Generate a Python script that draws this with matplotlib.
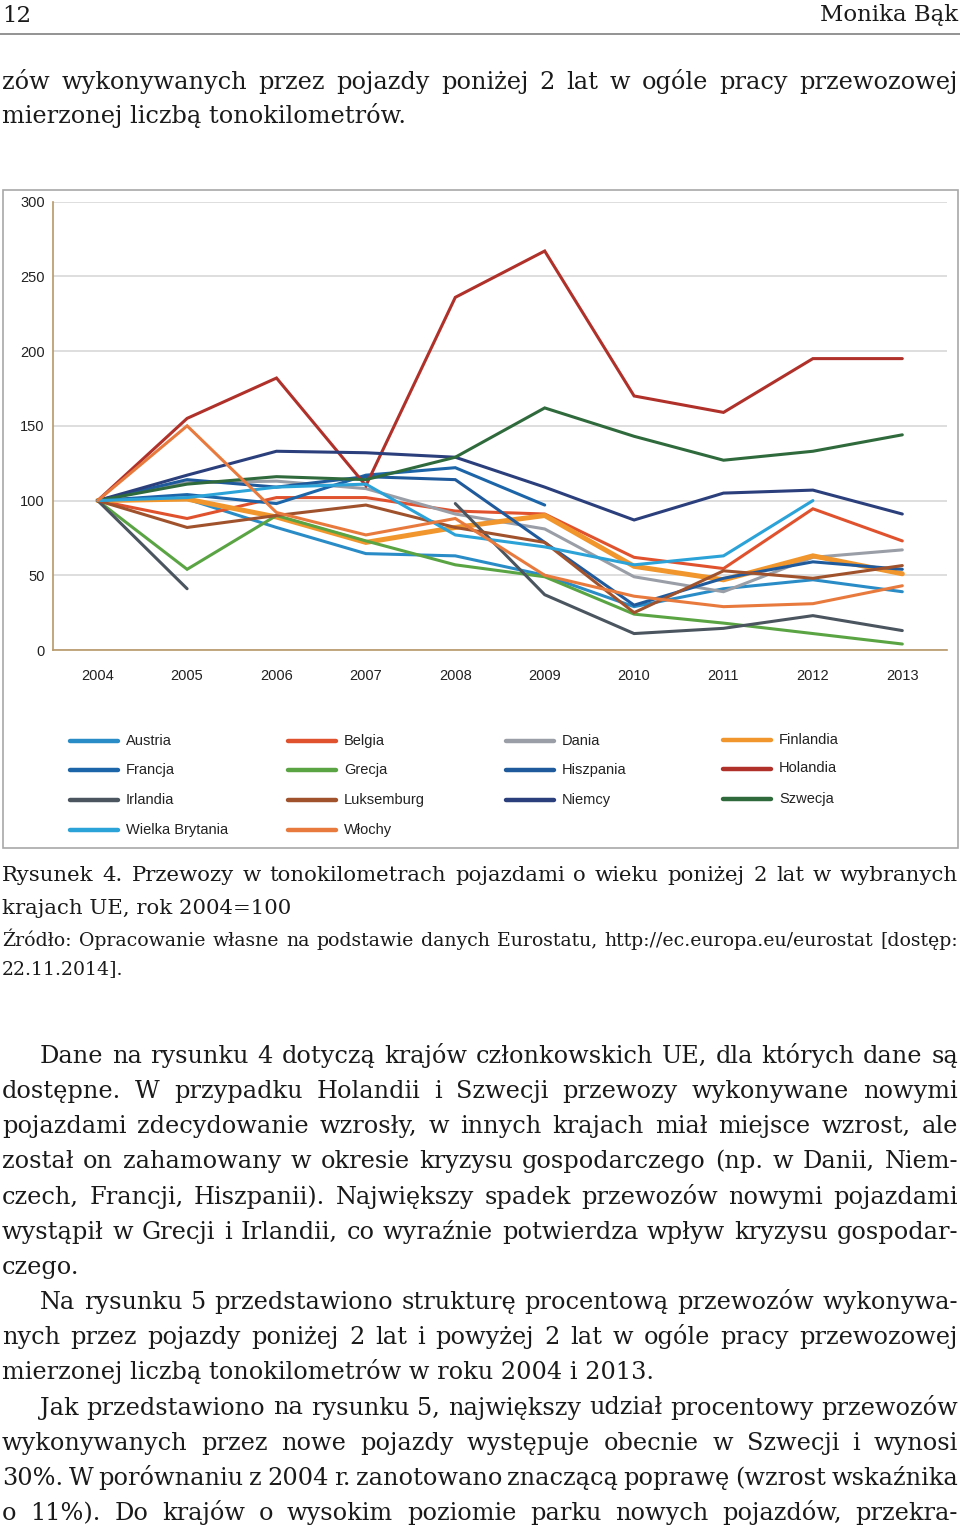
import matplotlib
matplotlib.use("Agg")
import matplotlib.pyplot as plt
from matplotlib.lines import Line2D
from matplotlib.patches import Rectangle
from matplotlib import font_manager
import numpy as np

nan = np.nan
lata = [2004, 2005, 2006, 2007, 2008, 2009, 2010, 2011, 2012, 2013]

austria = [100, 101, 82, 64.5, 63, 50, 29, 41, 47, 39]
belgia = [100, 88, 102, 102, 93, 91, 62, 54.5, 94.5, 73]
dania = [100, 112, 113, 108, 91, 81, 49, 39, 62, 67]
finlandia = [100, 101, 89, 72, 82, 90, 56, 47, 63, 51]
francja = [100, 104, 98, 117, 122, 97, nan, nan, nan, nan]
grecja = [100, 54, 90, 73, 57, 49, 24, 18, 11, 4]
hiszpania = [100, 114, 109, 116, 114, 72, 30, 48, 59, 54]
holandia = [100, 155, 182, 110, 236, 267, 170, 159, 195, 195]
irlandia = [100, 41, nan, nan, 98, 37, 11, 14.5, 23, 13]
luksemburg = [100, 82, 90, 97, 82, 72, 25, 53, 48, 56.5]
niemcy = [100, 117, 133, 132, 129, 109, 87, 105, 107, 91]
szwecja = [100, 111, 116, 114, 129, 162, 143, 127, 133, 144]
wielka_brytania = [100, 102, 109, 111, 77, 69, 57, 63, 100, nan]
wlochy = [100, 150, 92, 77, 88, 50, 36, 29, 31, 43]

kraje = ["Austria", "Belgia", "Dania", "Finlandia",
         "Francja", "Grecja", "Hiszpania", "Holandia",
         "Irlandia", "Luksemburg", "Niemcy", "Szwecja",
         "Wielka Brytania", "Włochy"]
serie = [austria, belgia, dania, finlandia,
         francja, grecja, hiszpania, holandia,
         irlandia, luksemburg, niemcy, szwecja,
         wielka_brytania, wlochy]
kolory = ["#2a8cc6", "#e0522e", "#9a9ea6", "#f0962c",
          "#1c65a8", "#5aa444", "#1f5a9c", "#b0302a",
          "#4a5560", "#a0522d", "#2b3f7c", "#2f6a3c",
          "#2ba2d8", "#e87a3e"]
grubosci = [2.2, 2.2, 2.2, 3.6, 2.2, 2.2, 2.2, 2.2, 2.2, 2.2, 2.2, 2.2, 2.2, 2.2]

W, H = 960, 1531
fig = plt.figure(figsize=(9.6, 15.31), dpi=100)
r = fig.canvas.get_renderer()

def fx(x):
    return x / W

def fy(y):
    return 1 - y / H

nazwy = {f.name for f in font_manager.fontManager.ttflist}
SANS = "Liberation Sans Narrow" if "Liberation Sans Narrow" in nazwy else "Liberation Sans"
SERIF = "DejaVu Serif"

def dopasuj(tekst, szer, family):
    t = fig.text(0, 0, tekst, fontsize=10, family=family)
    w = t.get_window_extent(r).width
    t.remove()
    return 10 * szer / w

def wiersz(tekst, y, size, x0=2, x1=958, justuj=True, family=SERIF):
    slowa = tekst.split()
    if not justuj or len(slowa) < 2:
        fig.text(fx(x0), fy(y), tekst, fontsize=size, family=family,
                 va="baseline", ha="left", color="#1a1a1a")
        return
    objs = [fig.text(0, fy(y), s, fontsize=size, family=family,
                     va="baseline", ha="left", color="#1a1a1a") for s in slowa]
    szer = [o.get_window_extent(r).width for o in objs]
    gap = (x1 - x0 - sum(szer)) / (len(slowa) - 1)
    x = x0
    for o, w in zip(objs, szer):
        o.set_x(fx(x))
        x += w + gap

podpis1 = "Rysunek 4. Przewozy w tonokilometrach pojazdami o wieku poniżej 2 lat w wybranych"
zrodlo1 = "Źródło: Opracowanie własne na podstawie danych Eurostatu, http://ec.europa.eu/eurostat [dostęp:"

fs_body = dopasuj("mierzonej liczbą tonokilometrów.", 405, SERIF)
fs_capt = dopasuj(podpis1, 935, SERIF)
fs_src = dopasuj(zrodlo1, 948, SERIF)
fs_sans = dopasuj("Wielka Brytania", 96, SANS)
if SANS != "Liberation Sans Narrow":
    fs_sans *= 1.06

# naglowek strony
wiersz("12", 21.5, fs_body * 0.95, justuj=False)
fig.text(fx(958), fy(21.5), "Monika Bąk", fontsize=fs_body * 0.95, family=SERIF,
         va="baseline", ha="right", color="#1a1a1a")
fig.add_artist(Line2D([0, 1], [fy(34), fy(34)], color="#8a8a8a", lw=1.3))

wiersz("zów wykonywanych przez pojazdy poniżej 2 lat w ogóle pracy przewozowej", 89, fs_body)
wiersz("mierzonej liczbą tonokilometrów.", 123, fs_body, justuj=False)

# ramka wykresu
fig.add_artist(Rectangle((fx(3), fy(848)), (955) / W, (848 - 190) / H,
                         fill=False, ec="#a8a8a8", lw=1.2))

ax = fig.add_axes([53 / W, fy(650), (947 - 53) / W, (650 - 201.7) / H])
for dane, kol, lw in zip(serie, kolory, grubosci):
    ax.plot(lata, dane, color=kol, lw=lw, solid_capstyle="round", solid_joinstyle="miter")
ax.set_xlim(2003.5, 2013.5)
ax.set_ylim(0, 300)
ax.set_yticks(range(0, 301, 50))
ax.set_xticks(lata)
ax.yaxis.grid(True, color="#d8d8d8", lw=1.2)
ax.set_axisbelow(True)
for s in ["top", "right"]:
    ax.spines[s].set_visible(False)
for s in ["left", "bottom"]:
    ax.spines[s].set_color("#b8986a")
    ax.spines[s].set_linewidth(1.2)
ax.tick_params(length=0, labelsize=fs_sans, colors="#222222")
ax.tick_params(axis="y", pad=6)
ax.tick_params(axis="x", pad=14)
for lab in ax.get_xticklabels() + ax.get_yticklabels():
    lab.set_family(SANS)

# legenda
kol_x = [70, 288, 506, 723]
wiersz_y = [741, 770, 800, 830]
for i, (nazwa, kol) in enumerate(zip(kraje, kolory)):
    c, w = i % 4, i // 4
    x0, y0 = kol_x[c], wiersz_y[w]
    if c == 3:
        y0 -= 1.5
    fig.add_artist(Line2D([fx(x0), fx(x0 + 48)], [fy(y0), fy(y0)], color=kol,
                          lw=3.2, solid_capstyle="round"))
    fig.text(fx(x0 + 56), fy(y0), nazwa, fontsize=fs_sans, family=SANS,
             va="center", ha="left", color="#222222")

# podpis
wiersz(podpis1, 881.5, fs_capt)
wiersz("krajach UE, rok 2004=100", 914, fs_capt, justuj=False)
wiersz(zrodlo1, 945.5, fs_src)
wiersz("22.11.2014].", 974, fs_src, justuj=False)

# tekst glowny
tekst = [
    ("Dane na rysunku 4 dotyczą krajów członkowskich UE, dla których dane są", 40, True),
    ("dostępne. W przypadku Holandii i Szwecji przewozy wykonywane nowymi", 2, True),
    ("pojazdami zdecydowanie wzrosły, w innych krajach miał miejsce wzrost, ale", 2, True),
    ("został on zahamowany w okresie kryzysu gospodarczego (np. w Danii, Niem-", 2, True),
    ("czech, Francji, Hiszpanii). Największy spadek przewozów nowymi pojazdami", 2, True),
    ("wystąpił w Grecji i Irlandii, co wyraźnie potwierdza wpływ kryzysu gospodar-", 2, True),
    ("czego.", 2, False),
    ("Na rysunku 5 przedstawiono strukturę procentową przewozów wykonywa-", 40, True),
    ("nych przez pojazdy poniżej 2 lat i powyżej 2 lat w ogóle pracy przewozowej", 2, True),
    ("mierzonej liczbą tonokilometrów w roku 2004 i 2013.", 2, False),
    ("Jak przedstawiono na rysunku 5, największy udział procentowy przewozów", 40, True),
    ("wykonywanych przez nowe pojazdy występuje obecnie w Szwecji i wynosi", 2, True),
    ("30%. W porównaniu z 2004 r. zanotowano znaczącą poprawę (wzrost wskaźnika", 2, True),
    ("o 11%). Do krajów o wysokim poziomie parku nowych pojazdów, przekra-", 2, True),
]
for k, (t, x0, j) in enumerate(tekst):
    wiersz(t, 1063 + 35.15 * k, fs_body, x0=x0, justuj=j)

fig.savefig("out.png", dpi=100)
